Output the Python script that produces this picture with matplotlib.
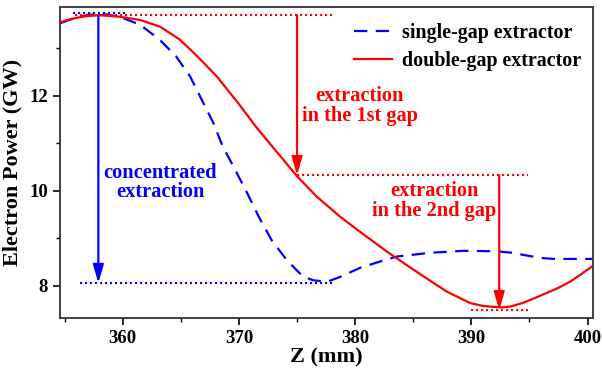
import numpy as np
import matplotlib
matplotlib.use("Agg")
import matplotlib.pyplot as plt
from matplotlib.ticker import MultipleLocator

plt.rcParams['font.family'] = ['Liberation Serif', 'DejaVu Serif']
plt.rcParams['font.weight'] = 'bold'
plt.rcParams['axes.labelweight'] = 'bold'

# electron power along the interaction structure (Z in mm, P in GW)
z_single = [354.6, 355.5, 357.0, 358.5, 359.7, 361.5, 363.2, 364.6, 365.8, 366.8,
            367.8, 368.6, 369.6, 370.7, 371.7, 372.8, 374.1, 375.5, 376.4, 377.6,
            378.7, 380.4, 382.2, 383.6, 386.5, 389.3, 392.2, 393.5, 394.8, 396.0,
            397.1, 400.5]
p_single = [13.52, 13.60, 13.70, 13.71, 13.66, 13.49, 13.17, 12.82, 12.40, 11.91,
            11.42, 10.93, 10.47, 9.95, 9.45, 8.96, 8.54, 8.19, 8.11, 8.08,
            8.18, 8.37, 8.51, 8.61, 8.69, 8.73, 8.72, 8.69, 8.63, 8.58,
            8.56, 8.56]

z_double = [354.6, 355.5, 356.8, 358.0, 359.7, 361.5, 363.2, 364.9, 366.4, 368.1,
            369.9, 371.6, 373.3, 375.0, 376.7, 378.7, 380.7, 382.7, 384.5, 385.9,
            387.9, 389.9, 391.0, 391.9, 392.7, 393.4, 394.4, 395.4, 397.4, 398.5,
            399.4, 400.5]
p_double = [13.54, 13.61, 13.67, 13.69, 13.66, 13.59, 13.45, 13.18, 12.83, 12.40,
            11.85, 11.30, 10.80, 10.30, 9.87, 9.45, 9.08, 8.72, 8.42, 8.19,
            7.87, 7.63, 7.57, 7.55, 7.54, 7.56, 7.63, 7.73, 7.94, 8.08,
            8.23, 8.42]

# reference levels and extraction arrows
p_peak = 13.69
p_single_top = 13.73
p_single_min = 8.05
p_gap1 = 10.32
p_double_min = 7.48
z_arrow_single = 357.9
z_arrow_gap1 = 375.0
z_arrow_gap2 = 392.4

fig = plt.figure(figsize=(6.02, 3.72), dpi=100)
ax = fig.add_axes([0.0997, 0.1444, 0.8859, 0.8376])

ax.plot(z_single, p_single, color='#0000ff', lw=1.6, dashes=(6, 3.8),
        label='single-gap extractor')
ax.plot(z_double, p_double, color='#ff0000', lw=1.6, label='double-gap extractor')

dot = dict(lw=1.5, dashes=(1, 1.4))
ax.plot([355.7, 360.2], [p_single_top, p_single_top], color='#0000ff', **dot)
ax.plot([356.3, 378.3], [p_single_min, p_single_min], color='#0000ff', **dot)
ax.plot([355.9, 378.0], [p_peak, p_peak], color='#ff0000', **dot)
ax.plot([375.0, 394.9], [p_gap1, p_gap1], color='#ff0000', **dot)
ax.plot([390.0, 394.9], [p_double_min, p_double_min], color='#ff0000', **dot)

def down_arrow(x, y0, y1, color):
    ax.annotate('', xy=(x, y1), xytext=(x, y0),
                arrowprops=dict(arrowstyle='-|>,head_length=1.1,head_width=0.32',
                                color=color, lw=1.6, shrinkA=0, shrinkB=0))

down_arrow(z_arrow_single, p_peak, p_single_min, '#0000ff')
down_arrow(z_arrow_gap1, p_peak, p_gap1, '#ff0000')
down_arrow(z_arrow_gap2, p_gap1, p_double_min, '#ff0000')

note = dict(fontsize=14.7, fontweight='bold', ha='center', va='center', linespacing=0.95)
ax.text(363.2, 10.17, 'concentrated\nextraction', color='#0000ff', **note)
ax.text(380.4, 11.78, 'extraction\nin the 1st gap', color='#ff0000', **note)
ax.text(386.8, 9.78, 'extraction\nin the 2nd gap', color='#ff0000', **note)

ax.set_xlim(354.6, 400.5)
ax.set_ylim(7.31, 13.87)
ax.xaxis.set_major_locator(MultipleLocator(10))
ax.xaxis.set_minor_locator(MultipleLocator(5))
ax.yaxis.set_major_locator(MultipleLocator(2))
ax.yaxis.set_minor_locator(MultipleLocator(1))
ax.tick_params(which='major', length=5, width=1.2, labelsize=13.5)
ax.tick_params(which='minor', length=3, width=1.0)
for lab in ax.get_xticklabels() + ax.get_yticklabels():
    lab.set_fontweight('bold')
for s in ax.spines.values():
    s.set_linewidth(1.3)
    s.set_color('#333333')

ax.set_xlabel('Z (mm)', fontsize=16, fontweight='bold', labelpad=0)
ax.set_ylabel('Electron Power (GW)', fontsize=16, fontweight='bold', labelpad=5)

leg = ax.legend(loc='upper right', bbox_to_anchor=(0.993, 0.972), frameon=False,
                handlelength=1.9, borderaxespad=0.0, labelspacing=0.38,
                handletextpad=0.5, prop={'size': 14.4, 'weight': 'bold'})

fig.savefig('out.png', dpi=100)
